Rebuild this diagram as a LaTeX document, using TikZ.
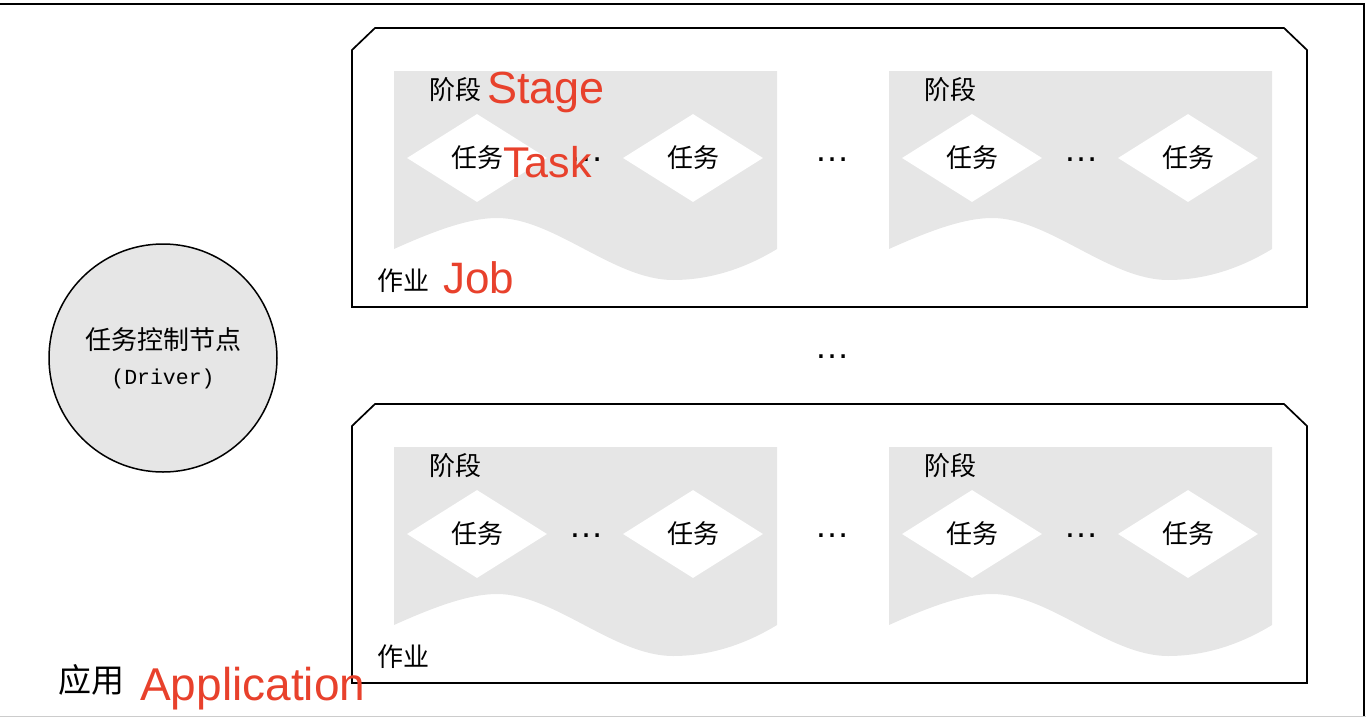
\documentclass[tikz,border=0pt]{standalone}
\usepackage{fontspec}
\setmainfont{Liberation Sans}
\setmonofont{Liberation Mono}
\newfontfamily\cjk{Noto Sans CJK SC}
\usetikzlibrary{shapes.geometric}

\definecolor{stagegray}{HTML}{E6E6E6}
\definecolor{labelred}{HTML}{E8412C}

% one stage: grey sheet with a wavy lower edge, two tasks
\newcommand\stagearea[3]{%
    \begin{scope}[shift = {(#1,#2)}]
	\fill[stagegray] (0,0) -- (383,0) -- (383,178)
	    .. controls (355,195) and (320,209) .. (279,209)
	    .. controls (220,209) and (160,147) .. (103,147)
	    .. controls (75,147) and (40,160) .. (0,178) -- cycle;
	\node[cnlabel] (#3l) at (61,19) {阶段};
	\node[task] (#3a) at (83,87) {任务};
	\node[dotsnode] (#3d) at (192,89) {…};
	\node[task] (#3b) at (299,87) {任务};
    \end{scope}}

\begin{document}
\begin{tikzpicture}[x = 1pt, y = -1pt,
	jobline/.style = {draw = black, line width = 1.7pt},
	task/.style = {shape = diamond, fill = white, minimum width = 140pt, minimum height = 88pt, inner sep = 0pt, font = \cjk\fontsize{26}{26}\selectfont},
	cnlabel/.style = {inner sep = 0pt, font = \cjk\fontsize{26}{26}\selectfont},
	redlabel/.style = {inner sep = 0pt, anchor = base west, text = labelred, font = \fontsize{45}{45}\selectfont},
	dotsnode/.style = {inner sep = 0pt, font = \fontsize{35}{35}\selectfont}]
    \useasboundingbox (0,0) rectangle (1366,718);
    % application frame
    \draw[line width = 1.6pt] (0,4) -- (1364,4) -- (1364,716);
    \draw[black!20, line width = 1pt] (0,716.5) -- (1366,716.5);

    \foreach \dy/\n in {0/top, 376/bot} {
	\begin{scope}[shift = {(0,\dy)}]
	    \draw[jobline] (352,50) -- (375,28) -- (1284,28) -- (1307,50) -- (1307,307) -- (352,307) -- cycle;
	    \stagearea{394}{71}{\n one}
	    \node[dotsnode] (\n mid) at (832,160) {…};
	    \stagearea{889}{71}{\n two}
	    \node[cnlabel] (\n job) at (403,281) {作业};
	\end{scope}
    }
    \node[dotsnode] (jobdots) at (832,357) {…};

    \node[circle, draw = black, line width = 1.5pt, fill = stagegray, minimum size = 228pt, inner sep = 0pt, align = center, font = \fontsize{26}{35}\selectfont] (driver) at (163,358)
	{{\cjk 任务控制节点}\\{\ttfamily\fontsize{21.5}{35}\selectfont (Driver)}};
    \node[inner sep = 0pt, font = \cjk\fontsize{33}{33}\selectfont] (app) at (91,680) {应用};

    % english names
    \node[redlabel] (stage) at (487,103) {Stage};
    \node[redlabel, font = \fontsize{43}{43}\selectfont] (task) at (503,177) {Task};
    \node[redlabel, font = \fontsize{44}{44}\selectfont] (job) at (443,293) {Job};
    \node[redlabel, font = \fontsize{46}{46}\selectfont] (application) at (140,700) {Application};
\end{tikzpicture}
\end{document}
